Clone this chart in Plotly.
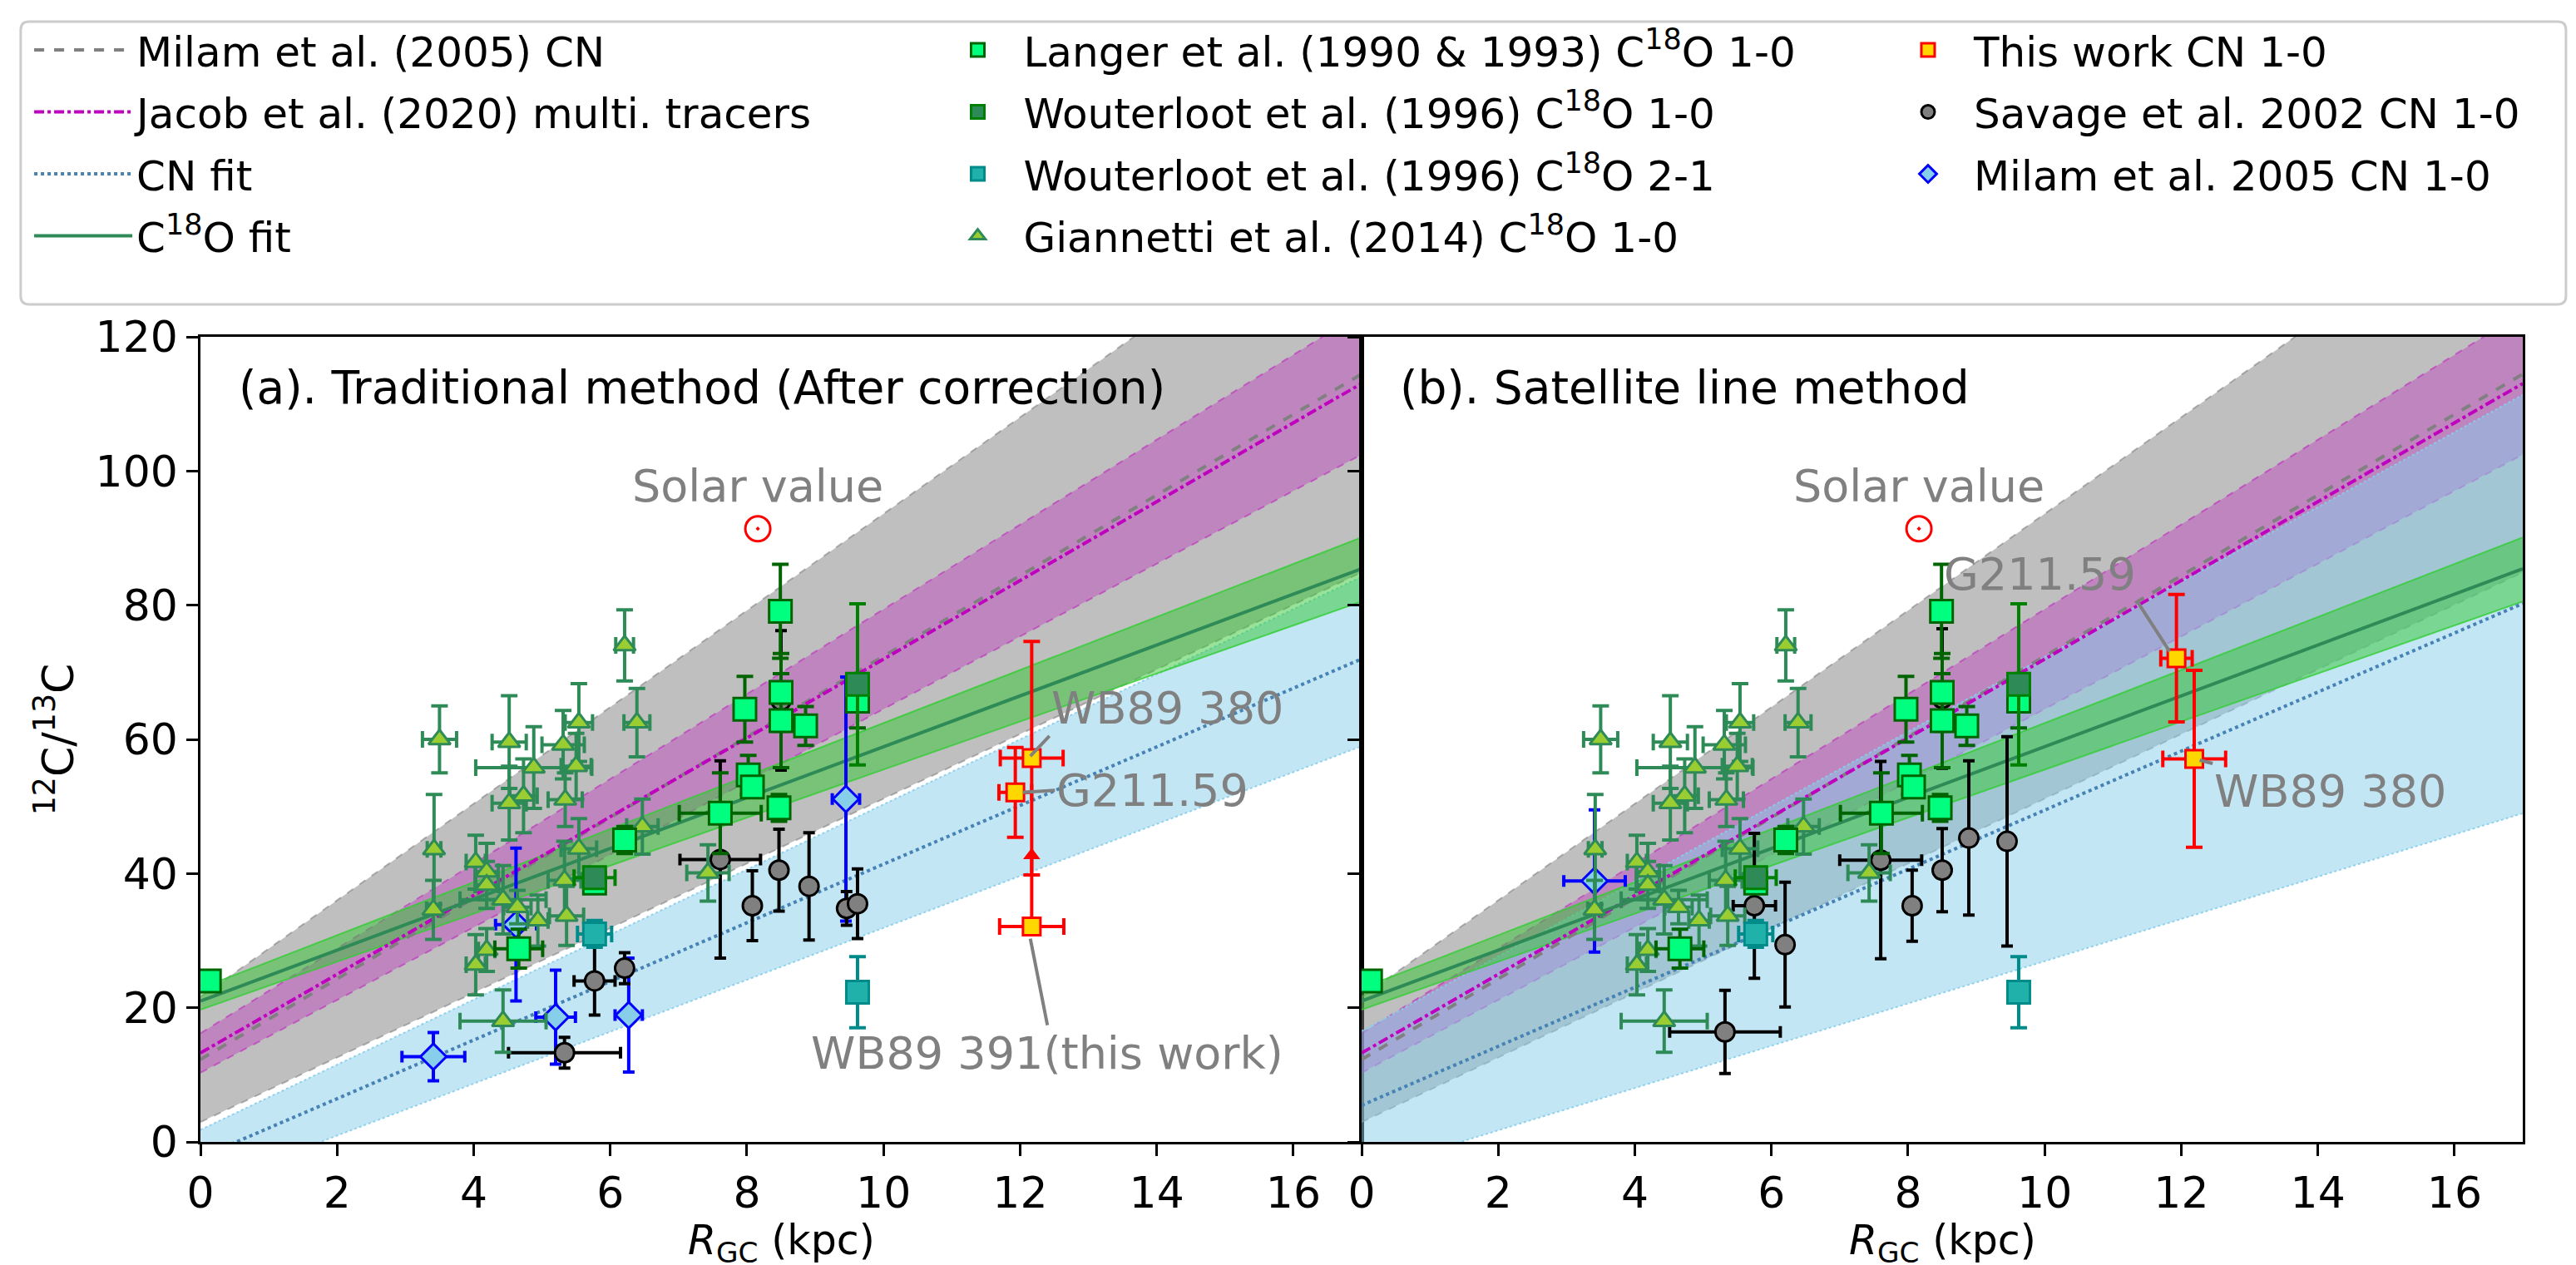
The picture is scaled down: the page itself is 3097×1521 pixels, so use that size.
import numpy as np
import plotly.graph_objects as go

FONT = "DejaVu Sans"

# ---------------- fit parameters (slope, intercept) ----------------
R_FIT = np.array([0.0, 17.0])
milam_fit = (6.01, 12.28)
milam_hi, milam_lo = (7.20, 21.61), (4.82, 2.95)
jacob_fit = (5.87, 13.25)
jacob_hi, jacob_lo = (6.32, 16.19), (5.42, 10.31)
c18o_fit = (3.79, 21.0)
c18o_hi, c18o_lo = (3.953, 22.9), (3.58, 19.7)
cn_fit_a = (4.37, -2.3)
cn_hi_a, cn_lo_a = (4.85, 1.8), (3.87, -6.8)
cn_fit_b = (4.40, 5.45)
cn_hi_b, cn_lo_b = (5.58, 16.5), (3.15, -4.57)

# ---------------- data ----------------
gia_R = [3.50, 3.42, 3.41, 4.52, 4.88, 5.31, 5.54, 5.50, 4.73, 4.52, 5.34, 6.39, 6.21, 4.03,
         4.19, 4.19, 4.43, 4.64, 4.94, 5.33, 5.54, 5.36, 4.19, 4.03, 4.43, 6.47, 7.43]
gia_val = [60.0, 43.6, 34.6, 59.6, 55.8, 59.2, 62.5, 56.0, 51.6, 50.5, 51.0, 62.5, 74.0, 41.7,
           40.3, 38.3, 36.1, 35.0, 33.0, 39.0, 43.7, 33.7, 28.6, 26.4, 18.0, 47.0, 40.1]
gia_Rerr = [0.25, 0.10, 0.10, 0.25, 0.85, 0.31, 0.20, 0.22, 0.20, 0.25, 0.25, 0.19, 0.13, 0.14,
            0.17, 0.17, 0.63, 0.20, 0.15, 0.24, 0.26, 0.25, 0.12, 0.14, 0.63, 0.23, 0.31]
gia_err = [5.0, 8.2, 4.4, 6.9, 6.1, 5.1, 5.8, 4.9, 5.5, 5.5, 4.0, 5.1, 5.3, 4.0,
           4.2, 3.5, 5.1, 2.5, 3.8, 5.8, 4.5, 4.4, 3.2, 4.5, 4.65, 4.1, 4.2]

lan_R = [0.13, 4.66, 5.77, 6.21, 7.61, 7.97, 8.02, 8.08, 8.47, 8.50, 8.50, 8.49, 8.86, 9.62]
lan_val = [24.0, 28.8, 38.6, 45.0, 49.0, 64.5, 54.7, 52.9, 49.8, 62.8, 67.0, 79.1, 62.0, 65.7]
lan_Rerr = [0, 0.35, 0, 0, 0.6, 0, 0, 0, 0, 0, 0, 0, 0, 0]
lan_err = [0, 2.9, 1.0, 2.0, 6.0, 4.9, 2.9, 1.5, 2.0, 7.0, 5.8, 7.0, 2.9, 4.0]

wou1_R = [5.77, 9.62]
wou1_val = [39.4, 68.2]
wou1_Rerr = [0.30, 0]
wou1_err = [1.0, 12.0]

wou2_R = [5.77, 9.62]
wou2_val = [31.0, 22.3]
wou2_Rerr = [0.25, 0]
wou2_err = [2.0, 5.3]

sav_a_R = [5.33, 5.77, 6.21, 7.61, 8.08, 8.47, 8.50, 8.91, 9.46, 9.62]
sav_a_val = [13.3, 24.0, 25.9, 42.1, 35.2, 40.5, 65.8, 38.1, 34.8, 35.5]
sav_a_Rerr = [0.82, 0.30, 0.10, 0.59, 0.10, 0.10, 0.10, 0.10, 0.10, 0.10]
sav_a_err = [2.3, 5.1, 2.3, 14.7, 5.2, 6.1, 10.4, 8.0, 2.5, 5.2]

sav_b_R = [5.32, 5.75, 6.20, 7.60, 8.06, 8.50, 8.50, 8.89, 9.45]
sav_b_val = [16.4, 35.2, 29.4, 42.0, 35.2, 40.5, 66.1, 45.3, 44.8]
sav_b_Rerr = [0.81, 0.31, 0.10, 0.60, 0.10, 0.10, 0.10, 0.10, 0.10]
sav_b_err = [6.2, 10.8, 9.3, 14.7, 5.3, 6.2, 10.4, 11.5, 15.6]

mil_a_R = [3.41, 4.62, 5.20, 6.27, 9.45]
mil_a_val = [12.7, 32.4, 18.6, 18.9, 51.1]
mil_a_Rerr = [0.46, 0.30, 0.29, 0.20, 0.20]
mil_a_err = [3.6, 11.4, 7.0, 8.5, 18.2]

mil_b_R = [3.41]
mil_b_val = [38.9]
mil_b_Rerr = [0.45]
mil_b_err = [10.6]

tw_a_R = [12.17, 11.93]          # WB89 380, G211.59
tw_a_val = [57.2, 52.1]
tw_a_Rerr = [0.46, 0.24]
tw_a_err = [17.4, 6.7]
tw391_R = [12.17]                # WB89 391 (lower limit)
tw391_val = [32.1]
tw391_Rerr = [0.47]
tw391_up = [10.6]

tw_b_R = [11.93, 12.19]          # G211.59, WB89 380
tw_b_val = [72.1, 57.1]
tw_b_Rerr = [0.23, 0.46]
tw_b_err = [9.5, 13.2]

solar_R = [8.16]
solar_val = [91.4]

x_ticks = list(range(0, 17, 2))
y_ticks = list(range(0, 121, 20))

fig = go.Figure()
ERR_W = 4


def lin(p):
    return p[0] * R_FIT + p[1]


def add_band(hi, lo, fill, edge, dash, xa, ya):
    x = np.concatenate([R_FIT, R_FIT[::-1]])
    y = np.concatenate([lin(hi), lin(lo)[::-1]])
    fig.add_trace(go.Scatter(x=x, y=y, fill="toself", fillcolor=fill, mode="lines",
                             line=dict(width=0), hoverinfo="skip", showlegend=False,
                             xaxis=xa, yaxis=ya))
    for p in (hi, lo):
        fig.add_trace(go.Scatter(x=R_FIT, y=lin(p), mode="lines",
                                 line=dict(color=edge, width=2, dash=dash),
                                 hoverinfo="skip", showlegend=False, xaxis=xa, yaxis=ya))


def add_pts(R, v, Rerr, err, name, sym, size, fill, edge, ecol, cap, xa, ya, show,
            legend, rank, err_minus=None, ycap=None):
    ey = dict(type="data", array=err, color=ecol, thickness=ERR_W,
              width=cap if ycap is None else ycap)
    if err_minus is not None:
        ey["symmetric"] = False
        ey["arrayminus"] = err_minus
    fig.add_trace(go.Scatter(
        x=R, y=v, mode="markers", name=name, legend=legend, legendgroup=name,
        legendrank=rank, showlegend=show,
        marker=dict(symbol=sym, size=size, color=fill, line=dict(color=edge, width=3)),
        error_x=dict(type="data", array=Rerr, color=ecol, thickness=ERR_W, width=cap),
        error_y=ey, xaxis=xa, yaxis=ya))


C18O = "C<sup>18</sup>O"

for panel, xa, ya in (("a", "x", "y"), ("b", "x2", "y2")):
    first = panel == "a"
    add_band(milam_hi, milam_lo, "rgba(128,128,128,0.5)", "rgba(128,128,128,0.6)", "dash", xa, ya)
    add_band(jacob_hi, jacob_lo, "rgba(191,0,191,0.3)", "rgba(191,0,191,0.45)", "dash", xa, ya)
    if first:
        add_band(cn_hi_a, cn_lo_a, "rgba(135,206,235,0.5)", "rgba(135,206,235,0.9)", "dot", xa, ya)
    else:
        add_band(cn_hi_b, cn_lo_b, "rgba(135,206,235,0.5)", "rgba(135,206,235,0.9)", "dot", xa, ya)
    add_band(c18o_hi, c18o_lo, "rgba(50,200,50,0.5)", "rgba(50,205,50,0.8)", "solid", xa, ya)

    fig.add_trace(go.Scatter(x=R_FIT, y=lin(milam_fit), mode="lines", name="Milam et al. (2005) CN",
                             line=dict(color="grey", width=4, dash="dash"), showlegend=first,
                             legend="legend", legendgroup="l1", legendrank=1, xaxis=xa, yaxis=ya))
    fig.add_trace(go.Scatter(x=R_FIT, y=lin(jacob_fit), mode="lines",
                             name="Jacob et al. (2020) multi. tracers",
                             line=dict(color="rgb(191,0,191)", width=4, dash="dashdot"),
                             showlegend=first, legend="legend", legendgroup="l2", legendrank=2,
                             xaxis=xa, yaxis=ya))
    fig.add_trace(go.Scatter(x=R_FIT, y=lin(cn_fit_a if first else cn_fit_b), mode="lines",
                             name="CN fit", line=dict(color="steelblue", width=4, dash="dot"),
                             showlegend=first, legend="legend", legendgroup="l3", legendrank=3,
                             xaxis=xa, yaxis=ya))
    fig.add_trace(go.Scatter(x=R_FIT, y=lin(c18o_fit), mode="lines", name=C18O + " fit",
                             line=dict(color="seagreen", width=4), showlegend=first,
                             legend="legend", legendgroup="l4", legendrank=4, xaxis=xa, yaxis=ya))

    if first:
        add_pts(mil_a_R, mil_a_val, mil_a_Rerr, mil_a_err, "Milam et al. 2005 CN 1-0", "diamond", 24,
                "skyblue", "blue", "blue", 7, xa, ya, True, "legend3", 3)
        add_pts(sav_a_R, sav_a_val, sav_a_Rerr, sav_a_err, "Savage et al. 2002 CN 1-0", "circle", 23,
                "grey", "black", "black", 7, xa, ya, True, "legend3", 2)
    else:
        add_pts(mil_b_R, mil_b_val, mil_b_Rerr, mil_b_err, "Milam et al. 2005 CN 1-0", "diamond", 24,
                "skyblue", "blue", "blue", 7, xa, ya, False, "legend3", 3)
        add_pts(sav_b_R, sav_b_val, sav_b_Rerr, sav_b_err, "Savage et al. 2002 CN 1-0", "circle", 23,
                "grey", "black", "black", 7, xa, ya, False, "legend3", 2)

    add_pts(gia_R, gia_val, gia_Rerr, gia_err, "Giannetti et al. (2014) " + C18O + " 1-0",
            "triangle-up", 23, "yellowgreen", "seagreen", "seagreen", 10, xa, ya, first, "legend2", 4)
    add_pts(lan_R, lan_val, lan_Rerr, lan_err, "Langer et al. (1990 & 1993) " + C18O + " 1-0",
            "square", 27, "rgb(0,255,127)", "darkgreen", "darkgreen", 10, xa, ya, first, "legend2", 1)
    add_pts(wou1_R, wou1_val, wou1_Rerr, wou1_err, "Wouterloot et al. (1996) " + C18O + " 1-0",
            "square", 27, "seagreen", "green", "green", 10, xa, ya, first, "legend2", 2)
    add_pts(wou2_R, wou2_val, wou2_Rerr, wou2_err, "Wouterloot et al. (1996) " + C18O + " 2-1",
            "square", 27, "lightseagreen", "darkcyan", "darkcyan", 10, xa, ya, first, "legend2", 3)

    if first:
        add_pts(tw391_R, tw391_val, tw391_Rerr, tw391_up, "WB89 391", "square", 21, "gold", "red",
                "red", 10, xa, ya, False, "legend3", 5, err_minus=[0], ycap=0)
        fig.add_trace(go.Scatter(x=tw391_R, y=[v + u for v, u in zip(tw391_val, tw391_up)],
                                 mode="markers", marker=dict(symbol="triangle-up", size=18, color="red"),
                                 showlegend=False, xaxis=xa, yaxis=ya))
        add_pts(tw_a_R, tw_a_val, tw_a_Rerr, tw_a_err, "This work CN 1-0", "square", 21, "gold", "red",
                "red", 10, xa, ya, True, "legend3", 1)
    else:
        add_pts(tw_b_R, tw_b_val, tw_b_Rerr, tw_b_err, "This work CN 1-0", "square", 21, "gold", "red",
                "red", 10, xa, ya, False, "legend3", 1)

    fig.add_trace(go.Scatter(x=solar_R, y=solar_val, mode="markers", showlegend=False,
                             marker=dict(symbol="circle-open-dot", size=30, color="red",
                                         line=dict(color="red", width=3)),
                             xaxis=xa, yaxis=ya))

GREY = "rgb(128,128,128)"
ann = []
for xr, yr, title in (("x", "y", "(a). Traditional method (After correction)"),
                      ("x2", "y2", "(b). Satellite line method")):
    ann.append(dict(x=0.54, y=112.5, xref=xr, yref=yr, text=title, showarrow=False,
                    xanchor="left", yanchor="middle", font=dict(size=55, color="black")))
    ann.append(dict(x=solar_R[0], y=97.7, xref=xr, yref=yr, text="Solar value", showarrow=False,
                    xanchor="center", yanchor="middle", font=dict(size=54, color=GREY)))

# x-axis titles (placed as annotations so they stay inside the canvas)
for xr in ("x domain", "x2 domain"):
    ann.append(dict(x=0.5, y=-0.125, xref=xr, yref="paper", text="<i>R</i><sub>GC</sub> (kpc)",
                    showarrow=False, xanchor="center", yanchor="middle",
                    font=dict(size=49, color="black")))


def arrow_label(text, head, tail, xr, yr, xanchor, yanchor):
    return dict(x=head[0], y=head[1], ax=tail[0], ay=tail[1], xref=xr, yref=yr, axref=xr, ayref=yr,
                text=text, showarrow=True, arrowhead=0, arrowwidth=4, arrowcolor=GREY,
                xanchor=xanchor, yanchor=yanchor, font=dict(size=54, color=GREY), standoff=0)


ann.append(arrow_label("WB89 380", (12.15, 57.5), (12.43, 60.5), "x", "y", "left", "bottom"))
ann.append(arrow_label("G211.59", (12.04, 52.1), (12.51, 52.4), "x", "y", "left", "middle"))
ann.append(arrow_label("WB89 391(this work)", (12.15, 30.3), (12.40, 17.4), "x", "y", "center", "top"))
ann.append(arrow_label("G211.59", (11.83, 73.1), (11.36, 80.5), "x2", "y2", "right", "bottom"))
ann.append(arrow_label("WB89 380", (12.27, 56.9), (12.46, 56.4), "x2", "y2", "left", "top"))

xaxis_common = dict(range=[0, 17], tickvals=x_ticks, ticks="outside", ticklen=14, tickwidth=2.5,
                    tickcolor="black", showline=True, linecolor="black", linewidth=2.5, mirror=True,
                    showgrid=False, zeroline=False, tickfont=dict(size=52))
yaxis_common = dict(range=[0, 120], tickvals=y_ticks, ticks="outside", ticklen=14, tickwidth=2.5,
                    tickcolor="black", showline=True, linecolor="black", linewidth=2.5, mirror=True,
                    showgrid=False, zeroline=False, tickfont=dict(size=52))

# legend frame (rounded rectangle in paper coordinates)
x0, x1, y0, y1 = -0.0774, 1.0186, 1.0403, 1.3915
rx, ry = 0.0036, 0.0103
frame = (f"M {x0+rx},{y1} L {x1-rx},{y1} Q {x1},{y1} {x1},{y1-ry} L {x1},{y0+ry} "
         f"Q {x1},{y0} {x1-rx},{y0} L {x0+rx},{y0} Q {x0},{y0} {x0},{y0+ry} "
         f"L {x0},{y1-ry} Q {x0},{y1} {x0+rx},{y1} Z")

leg_common = dict(yanchor="top", xanchor="left", bgcolor="rgba(0,0,0,0)", font=dict(size=50),
                  tracegroupgap=6.5, borderwidth=0)

fig.update_layout(
    width=3097, height=1521,
    margin=dict(l=233, r=72, t=397, b=156),
    paper_bgcolor="white", plot_bgcolor="white",
    font=dict(family=FONT, size=52, color="black"),
    xaxis=dict(domain=[0, 0.5], anchor="y", **xaxis_common),
    xaxis2=dict(domain=[0.5, 1], anchor="y2", **xaxis_common),
    yaxis=dict(domain=[0, 1], anchor="x",
               title=dict(text="<sup>12</sup>C/<sup>13</sup>C", font=dict(size=52), standoff=10),
               **yaxis_common),
    yaxis2=dict(domain=[0, 1], anchor="x2", matches="y", showticklabels=False, **yaxis_common),
    annotations=ann,
    shapes=[dict(type="path", path=frame, xref="paper", yref="paper",
                 line=dict(color="rgb(204,204,204)", width=3), fillcolor="white", layer="below")],
    legend=dict(x=-0.0734, y=1.3966, itemwidth=118, **leg_common),
    legend2=dict(x=0.315, y=1.3966, itemwidth=100, **leg_common),
    legend3=dict(x=0.7242, y=1.3966, itemwidth=100, **leg_common),
)

fig.write_html("out.html")
